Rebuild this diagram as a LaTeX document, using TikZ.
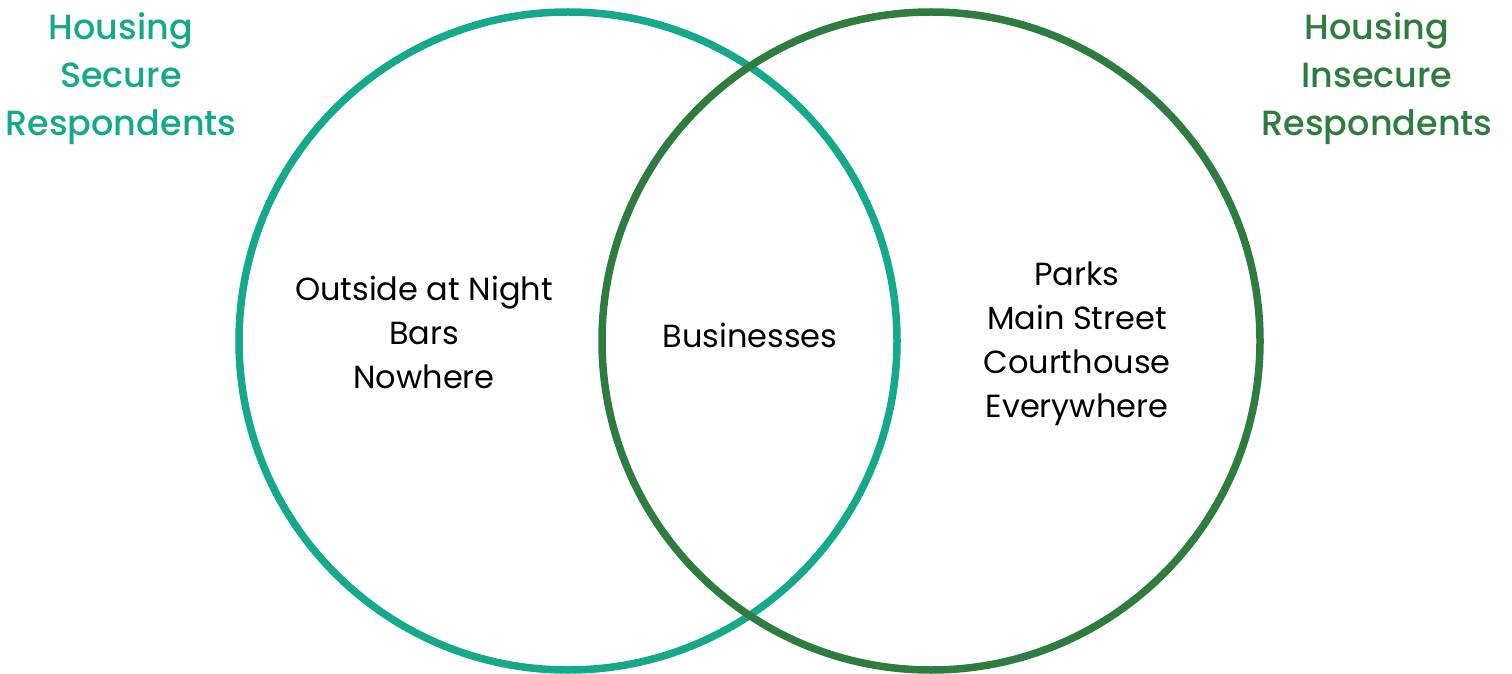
\documentclass[tikz,border=0pt]{standalone}
\usepackage{fontspec}
\setmainfont{Poppins}
\newfontfamily\mediumfont{Poppins Medium}
\definecolor{secure}{HTML}{14A98B}
\definecolor{insecure}{HTML}{2E7D3F}
\begin{document}
\begin{tikzpicture}[x=1pt,y=1pt,
  ring/.style={line width=7.5pt},
  body/.style={align=center, font=\fontsize{32}{44}\selectfont, text=black, inner sep=0pt},
  title/.style={align=center, font=\mediumfont\fontsize{35}{48}\selectfont, inner sep=0pt}]
\useasboundingbox (0,0) rectangle (1512,673);
% the two sets
\draw[ring, draw=secure] (568,332) circle (329);
\draw[ring, draw=insecure] (931,332) circle (329);
% set titles
\node[title, text=secure] (lt) at (121,594) {Housing\\Secure\\Respondents};
\node[title, text=insecure] (rt) at (1377,594) {Housing\\Insecure\\Respondents};
% set contents
\node[body] (left) at (424,341) {Outside at Night\\Bars\\Nowhere};
\node[body] (mid) at (750,338) {Businesses};
\node[body] (right) at (1077,329) {Parks\\Main Street\\Courthouse\\Everywhere};
\end{tikzpicture}
\end{document}
